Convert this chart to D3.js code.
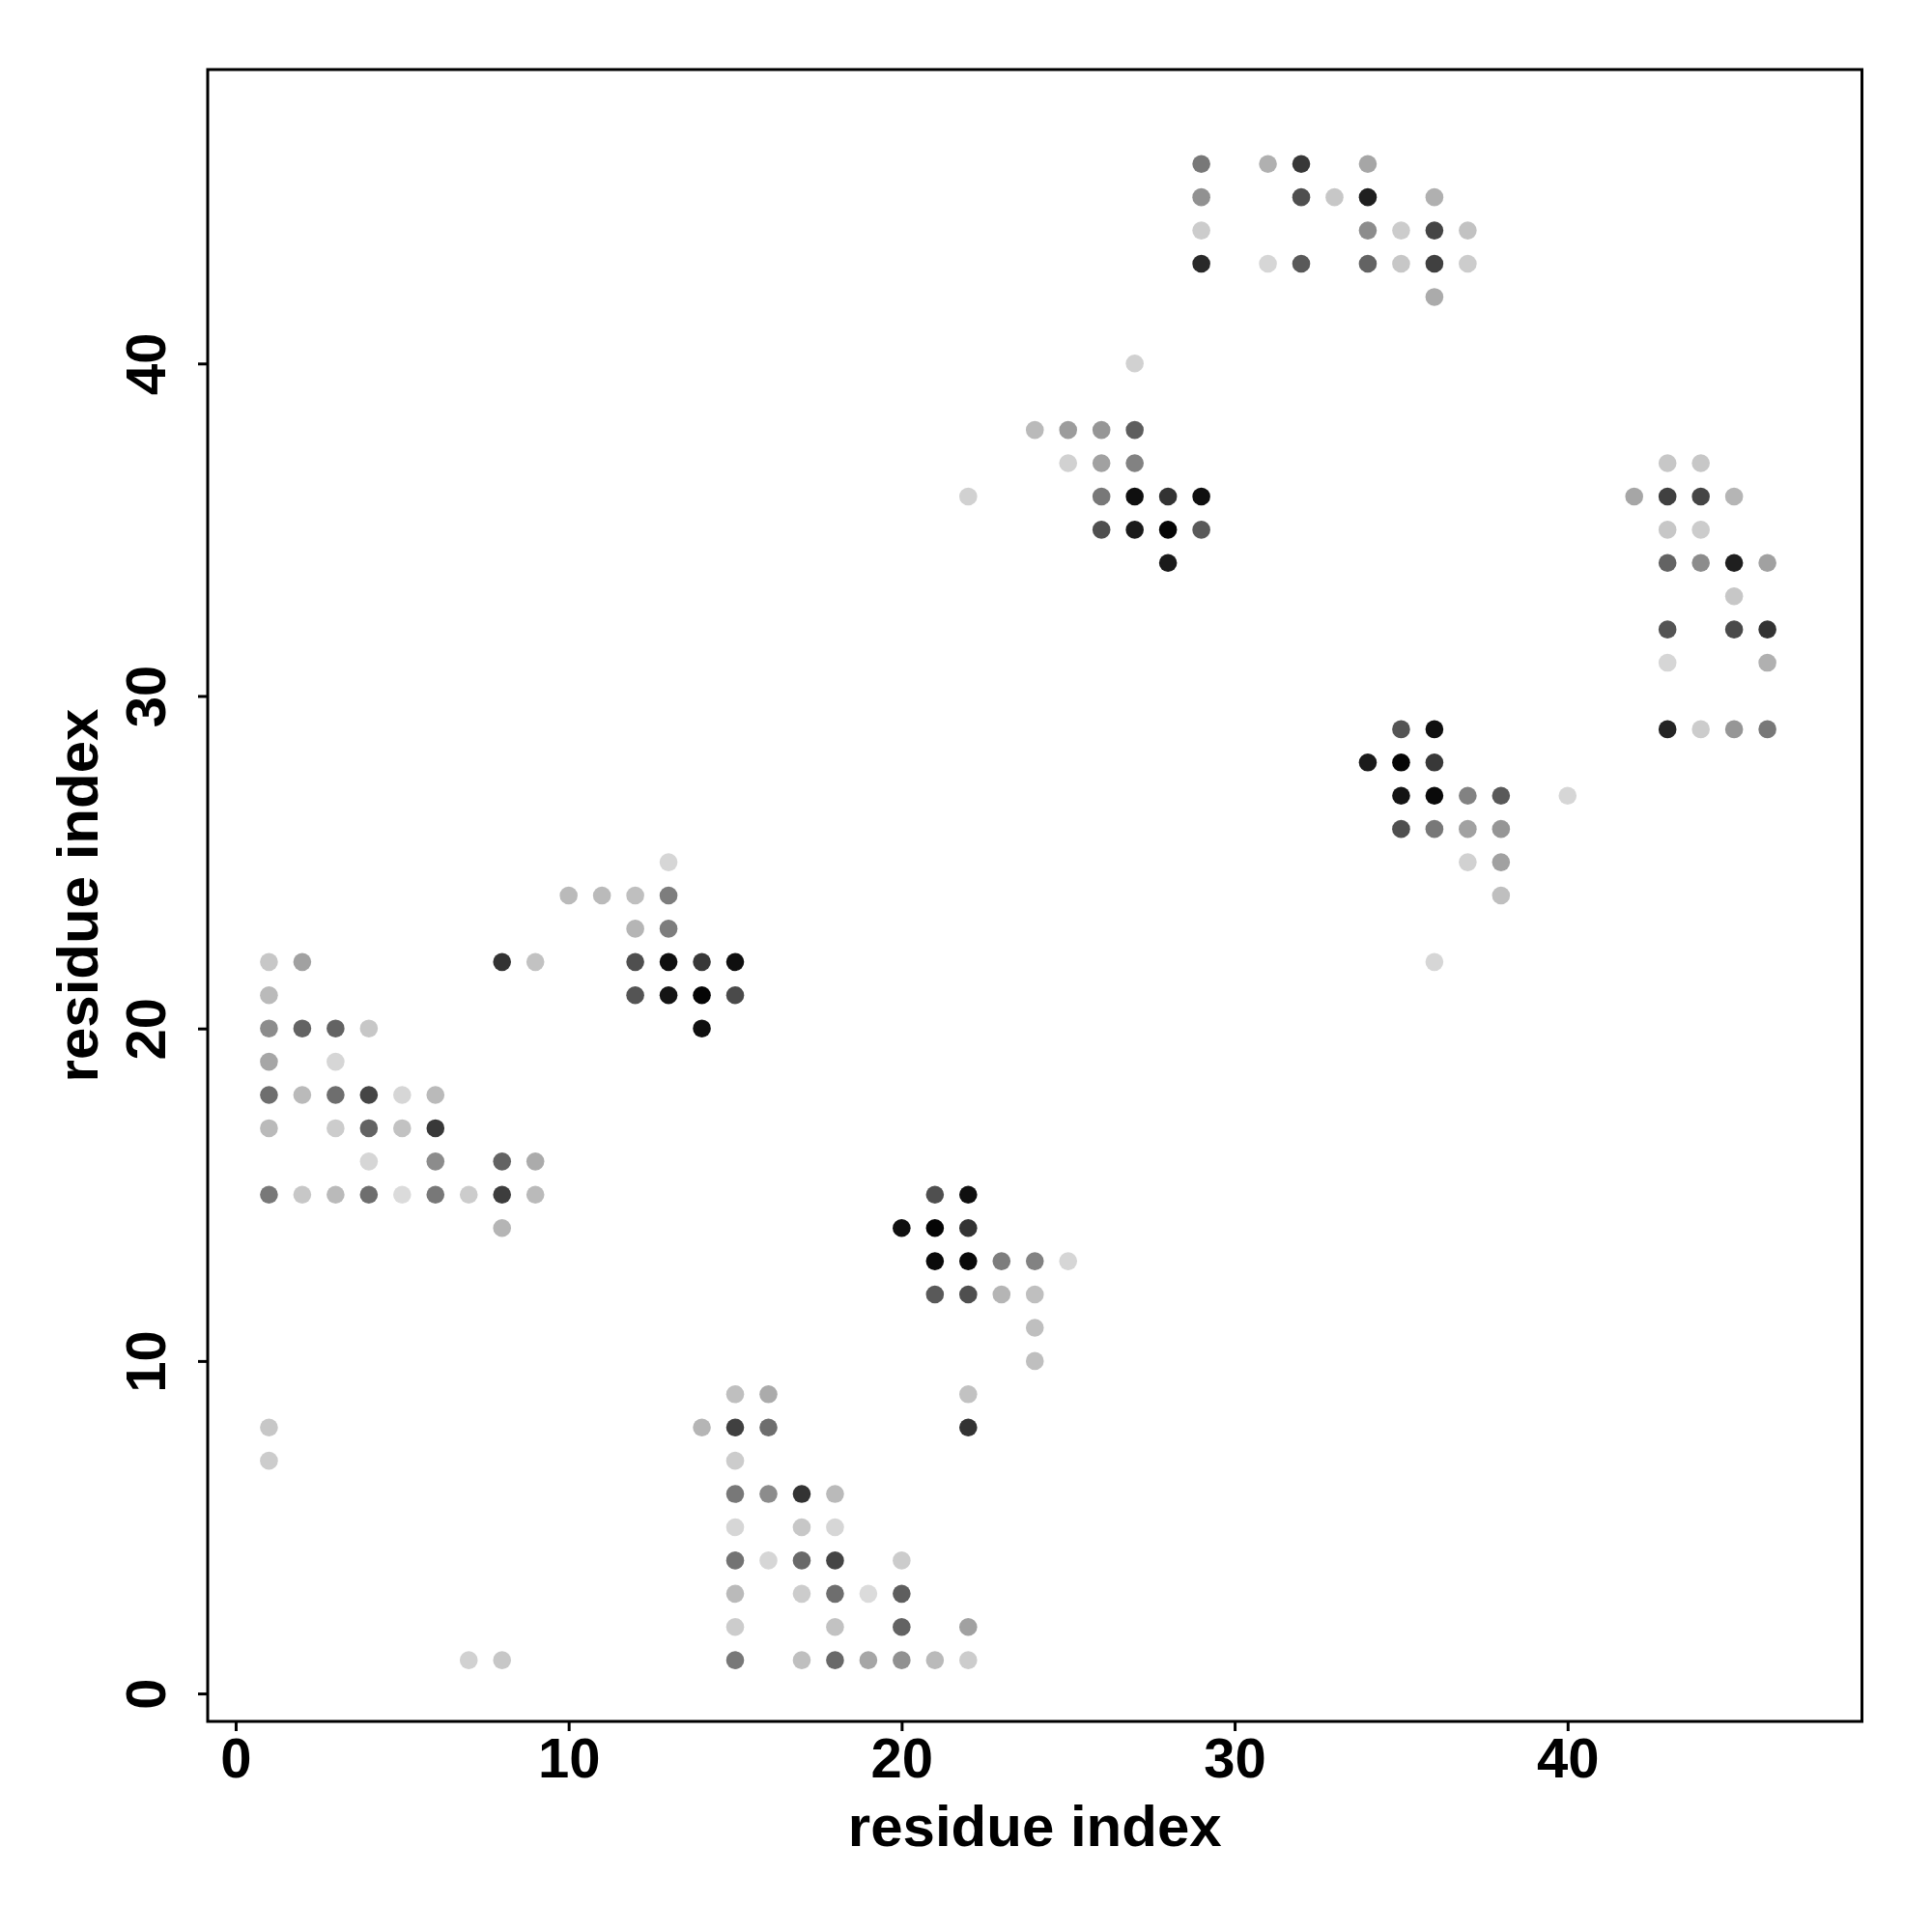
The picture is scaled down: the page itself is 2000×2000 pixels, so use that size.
<!DOCTYPE html>
<html>
<head>
<meta charset="utf-8">
<script src="https://cdn.jsdelivr.net/npm/d3@7"></script>
<style>
  html, body { margin: 0; padding: 0; background: #fff; }
  svg { display: block; }
</style>
</head>
<body>
<script>
// ---- data: residue contacts (i, j) and their contact score (0..1) ----
const residueI = [
  // cluster A
  1,2,8,9, 1, 1,2,3,4, 1,3, 1,2,3,4,5,6, 1,3,4,5,6, 4,6,8,9, 1,2,3,4,5,6,7,8,9, 8, 1,1,7,8,
  // cluster B
  13, 10,11,12,13, 12,13, 12,13,14,15, 12,13,14,15, 14,
  // cluster C
  15,16,22, 14,15,16,22, 15, 15,16,17,18, 15,17,18, 15,16,17,18,20, 15,17,18,19,20, 15,18,20,22, 15,17,18,19,20,21,22,
  // cluster D
  21,22, 20,21,22, 21,22,23,24,25, 21,22,23,24, 24, 24,
  // cluster E
  27, 24,25,26,27, 25,26,27, 22,26,27,28,29, 26,27,28,29, 28,
  // cluster F
  29,31,32,34, 29,32,33,34,36, 29,34,35,36,37, 29,31,32,34,35,36,37, 36,
  // cluster G
  35,36, 34,35,36, 35,36,37,38,40, 35,36,37,38, 37,38, 38, 36,
  // cluster H
  43,44, 42,43,44,45, 43,44, 43,44,45,46, 45, 43,45,46, 43,46, 43,44,45,46
];
const residueJ = [
  // cluster A
  22,22,22,22, 21, 20,20,20,20, 19,19, 18,18,18,18,18,18, 17,17,17,17,17, 16,16,16,16, 15,15,15,15,15,15,15,15,15, 14, 8,7,1,1,
  // cluster B
  25, 24,24,24,24, 23,23, 22,22,22,22, 21,21,21,21, 20,
  // cluster C
  9,9,9, 8,8,8,8, 7, 6,6,6,6, 5,5,5, 4,4,4,4,4, 3,3,3,3,3, 2,2,2,2, 1,1,1,1,1,1,1,
  // cluster D
  15,15, 14,14,14, 13,13,13,13,13, 12,12,12,12, 11, 10,
  // cluster E
  40, 38,38,38,38, 37,37,37, 36,36,36,36,36, 35,35,35,35, 34,
  // cluster F
  46,46,46,46, 45,45,45,45,45, 44,44,44,44,44, 43,43,43,43,43,43,43, 42,
  // cluster G
  29,29, 28,28,28, 27,27,27,27,27, 26,26,26,26, 25,25, 24, 22,
  // cluster H
  37,37, 36,36,36,36, 35,35, 34,34,34,34, 33, 32,32,32, 31,31, 29,29,29,29
];
const contactScore = [
  // cluster A
  0.22,0.37,0.80,0.24, 0.27, 0.45,0.61,0.61,0.22, 0.35,0.16, 0.57,0.27,0.57,0.73,0.16,0.27,
  0.27,0.20,0.61,0.24,0.78, 0.16,0.45,0.61,0.33, 0.53,0.22,0.27,0.57,0.14,0.53,0.20,0.76,0.27, 0.29, 0.22,0.20,0.18,0.22,
  // cluster B
  0.16, 0.27,0.27,0.25,0.51, 0.29,0.51, 0.69,0.94,0.78,0.94, 0.67,0.92,0.98,0.71, 0.94,
  // cluster C
  0.25,0.33,0.24, 0.29,0.75,0.57,0.80, 0.20, 0.53,0.45,0.80,0.27, 0.16,0.22,0.16, 0.55,0.16,0.59,0.73,0.20,
  0.27,0.20,0.57,0.14,0.63, 0.20,0.24,0.61,0.37, 0.53,0.25,0.59,0.35,0.43,0.27,0.20,
  // cluster D
  0.69,0.94, 0.94,0.98,0.80, 0.96,0.96,0.51,0.49,0.16, 0.65,0.69,0.29,0.25, 0.25, 0.25,
  // cluster E
  0.18, 0.27,0.39,0.41,0.63, 0.18,0.37,0.49, 0.18,0.53,0.94,0.80,0.94, 0.69,0.90,0.98,0.65, 0.90,
  // cluster F
  0.53,0.31,0.78,0.35, 0.43,0.69,0.22,0.88,0.31, 0.20,0.45,0.20,0.73,0.24, 0.84,0.16,0.65,0.61,0.22,0.75,0.20, 0.33,
  // cluster G
  0.67,0.94, 0.90,0.98,0.78, 0.92,0.96,0.49,0.65,0.16, 0.69,0.53,0.37,0.41, 0.18,0.37, 0.25, 0.16,
  // cluster H
  0.22,0.22, 0.35,0.75,0.73,0.29, 0.22,0.20, 0.61,0.45,0.88,0.37, 0.22, 0.67,0.71,0.80, 0.16,0.31, 0.86,0.20,0.41,0.53
];
const xTicks = [0, 10, 20, 30, 40];
const yTicks = [0, 10, 20, 30, 40];
const xLabel = "residue index";
const yLabel = "residue index";

// ---- layout ----
const W = 2000, H = 2000;
const plotL = 215, plotR = 1927.5, plotT = 72, plotB = 1782;
const FONT = "'Liberation Sans', Arial, Helvetica, sans-serif";

const points = residueI.map((d, k) => ({ i: d, j: residueJ[k], s: contactScore[k] }));

const x = d3.scaleLinear().domain([-0.84, 48.84]).range([plotL, plotR]);
const y = d3.scaleLinear().domain([-0.84, 48.84]).range([plotB, plotT]);
const color = d3.scaleLinear().domain([0, 1]).range(["#ffffff", "#000000"]);

const svg = d3.select("body").append("svg")
  .attr("width", W).attr("height", H)
  .style("background", "#fff");

// points
svg.append("g")
  .selectAll("circle")
  .data(points)
  .join("circle")
  .attr("cx", d => x(d.i))
  .attr("cy", d => y(d.j))
  .attr("r", 9.3)
  .attr("fill", d => color(d.s));

// axes
const xAxis = svg.append("g")
  .attr("transform", `translate(0,${plotB})`)
  .call(d3.axisBottom(x).tickValues(xTicks).tickSize(10).tickSizeOuter(0).tickFormat(d3.format("d")));
xAxis.select(".domain").remove();
xAxis.selectAll(".tick line").attr("stroke", "#000").attr("stroke-width", 3);
xAxis.selectAll(".tick text")
  .attr("y", 58).attr("dy", null)
  .attr("fill", "#000")
  .style("font-family", FONT).style("font-weight", "bold").style("font-size", "58px");

const yAxis = svg.append("g")
  .attr("transform", `translate(${plotL},0)`)
  .call(d3.axisLeft(y).tickValues(yTicks).tickSize(10).tickSizeOuter(0).tickFormat(d3.format("d")));
yAxis.select(".domain").remove();
yAxis.selectAll(".tick line").attr("stroke", "#000").attr("stroke-width", 3);
yAxis.selectAll(".tick text")
  .attr("x", null).attr("dy", null)
  .attr("text-anchor", "middle")
  .attr("transform", "translate(-44,0) rotate(-90)")
  .attr("fill", "#000")
  .style("font-family", FONT).style("font-weight", "bold").style("font-size", "58px");

// box
svg.append("rect")
  .attr("x", plotL).attr("y", plotT)
  .attr("width", plotR - plotL).attr("height", plotB - plotT)
  .attr("fill", "none").attr("stroke", "#000").attr("stroke-width", 3);

// axis titles
svg.append("text")
  .attr("x", (plotL + plotR) / 2).attr("y", 1911)
  .attr("text-anchor", "middle")
  .style("font-family", FONT).style("font-weight", "bold").style("font-size", "60px")
  .text(xLabel);

svg.append("text")
  .attr("transform", `translate(101,${(plotT + plotB) / 2}) rotate(-90)`)
  .attr("text-anchor", "middle")
  .style("font-family", FONT).style("font-weight", "bold").style("font-size", "60px")
  .text(yLabel);
</script>
</body>
</html>
